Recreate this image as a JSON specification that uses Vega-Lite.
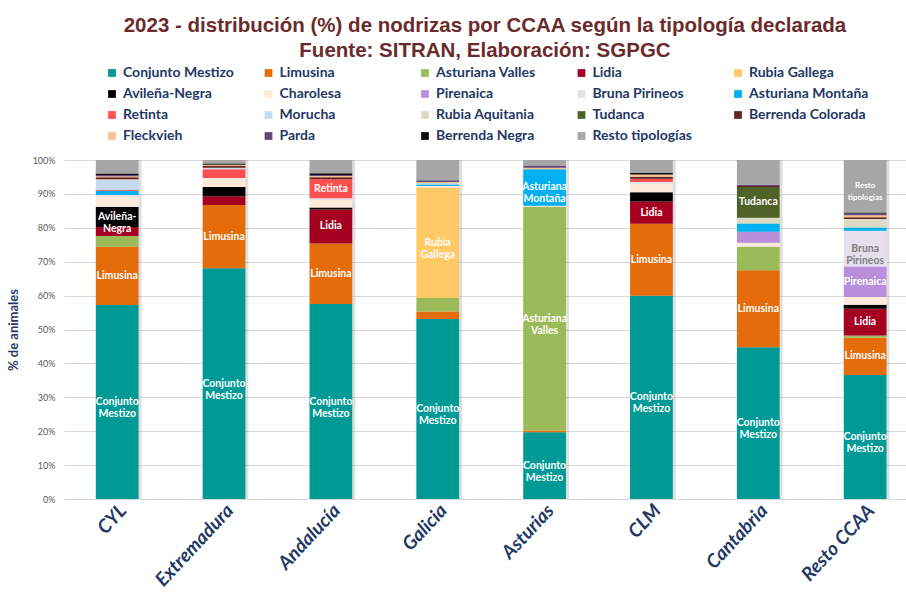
{
  "$schema": "https://vega.github.io/schema/vega-lite/v6.json",
  "autosize": {"type": "none"},
  "padding": {"left": 64, "top": 160, "right": 0, "bottom": 99},
  "width": 842,
  "height": 339,
  "background": "white",
  "title": {
    "text": ["2023 - distribución (%) de nodrizas por CCAA según la tipología declarada", "Fuente: SITRAN, Elaboración: SGPGC"],
    "font": "Liberation Sans",
    "fontSize": 20.5,
    "fontWeight": "bold",
    "color": "#6B2B2B",
    "lineHeight": 24.5,
    "anchor": "middle",
    "offset": 5
  },
  "datasets": {
    "tipos": [
      {"tipo": "Conjunto Mestizo", "orden": 1},
      {"tipo": "Limusina", "orden": 2},
      {"tipo": "Asturiana Valles", "orden": 3},
      {"tipo": "Lidia", "orden": 4},
      {"tipo": "Rubia Gallega", "orden": 5},
      {"tipo": "Avileña-Negra", "orden": 6},
      {"tipo": "Charolesa", "orden": 7},
      {"tipo": "Pirenaica", "orden": 8},
      {"tipo": "Bruna Pirineos", "orden": 9},
      {"tipo": "Asturiana Montaña", "orden": 10},
      {"tipo": "Retinta", "orden": 11},
      {"tipo": "Morucha", "orden": 12},
      {"tipo": "Rubia Aquitania", "orden": 13},
      {"tipo": "Tudanca", "orden": 14},
      {"tipo": "Berrenda Colorada", "orden": 15},
      {"tipo": "Fleckvieh", "orden": 16},
      {"tipo": "Parda", "orden": 17},
      {"tipo": "Berrenda Negra", "orden": 18},
      {"tipo": "Resto tipologías", "orden": 19}
    ],
    "nodrizas": [
      {"ccaa": "CYL", "tipo": "Conjunto Mestizo", "pct": 57.2, "label": "Conjunto\nMestizo"},
      {"ccaa": "CYL", "tipo": "Limusina", "pct": 17.2, "label": "Limusina"},
      {"ccaa": "CYL", "tipo": "Asturiana Valles", "pct": 3.2},
      {"ccaa": "CYL", "tipo": "Lidia", "pct": 2.6},
      {"ccaa": "CYL", "tipo": "Avileña-Negra", "pct": 5.9, "label": "Avileña-\nNegra"},
      {"ccaa": "CYL", "tipo": "Charolesa", "pct": 3.1},
      {"ccaa": "CYL", "tipo": "Bruna Pirineos", "pct": 0.5},
      {"ccaa": "CYL", "tipo": "Asturiana Montaña", "pct": 1.2},
      {"ccaa": "CYL", "tipo": "Retinta", "pct": 0.3},
      {"ccaa": "CYL", "tipo": "Morucha", "pct": 2.8},
      {"ccaa": "CYL", "tipo": "Rubia Aquitania", "pct": 0.3},
      {"ccaa": "CYL", "tipo": "Berrenda Colorada", "pct": 0.6},
      {"ccaa": "CYL", "tipo": "Fleckvieh", "pct": 0.3},
      {"ccaa": "CYL", "tipo": "Parda", "pct": 0.4},
      {"ccaa": "CYL", "tipo": "Berrenda Negra", "pct": 0.4},
      {"ccaa": "CYL", "tipo": "Resto tipologías", "pct": 4.0},

      {"ccaa": "Extremadura", "tipo": "Conjunto Mestizo", "pct": 68.1, "label": "Conjunto\nMestizo"},
      {"ccaa": "Extremadura", "tipo": "Limusina", "pct": 18.6, "label": "Limusina"},
      {"ccaa": "Extremadura", "tipo": "Lidia", "pct": 2.6},
      {"ccaa": "Extremadura", "tipo": "Avileña-Negra", "pct": 2.7},
      {"ccaa": "Extremadura", "tipo": "Charolesa", "pct": 2.7},
      {"ccaa": "Extremadura", "tipo": "Retinta", "pct": 2.6},
      {"ccaa": "Extremadura", "tipo": "Morucha", "pct": 0.4},
      {"ccaa": "Extremadura", "tipo": "Berrenda Colorada", "pct": 0.5},
      {"ccaa": "Extremadura", "tipo": "Fleckvieh", "pct": 0.4},
      {"ccaa": "Extremadura", "tipo": "Berrenda Negra", "pct": 0.4},
      {"ccaa": "Extremadura", "tipo": "Resto tipologías", "pct": 1.0},

      {"ccaa": "Andalucía", "tipo": "Conjunto Mestizo", "pct": 57.5, "label": "Conjunto\nMestizo"},
      {"ccaa": "Andalucía", "tipo": "Limusina", "pct": 17.9, "label": "Limusina"},
      {"ccaa": "Andalucía", "tipo": "Lidia", "pct": 10.0, "label": "Lidia"},
      {"ccaa": "Andalucía", "tipo": "Avileña-Negra", "pct": 0.6},
      {"ccaa": "Andalucía", "tipo": "Charolesa", "pct": 2.2},
      {"ccaa": "Andalucía", "tipo": "Bruna Pirineos", "pct": 0.5},
      {"ccaa": "Andalucía", "tipo": "Retinta", "pct": 5.6, "label": "Retinta"},
      {"ccaa": "Andalucía", "tipo": "Berrenda Colorada", "pct": 0.6},
      {"ccaa": "Andalucía", "tipo": "Fleckvieh", "pct": 0.4},
      {"ccaa": "Andalucía", "tipo": "Parda", "pct": 0.3},
      {"ccaa": "Andalucía", "tipo": "Berrenda Negra", "pct": 0.5},
      {"ccaa": "Andalucía", "tipo": "Resto tipologías", "pct": 3.9},

      {"ccaa": "Galicia", "tipo": "Conjunto Mestizo", "pct": 53.1, "label": "Conjunto\nMestizo"},
      {"ccaa": "Galicia", "tipo": "Limusina", "pct": 2.2},
      {"ccaa": "Galicia", "tipo": "Asturiana Valles", "pct": 4.0},
      {"ccaa": "Galicia", "tipo": "Rubia Gallega", "pct": 32.6, "label": "Rubia\nGallega"},
      {"ccaa": "Galicia", "tipo": "Charolesa", "pct": 0.4},
      {"ccaa": "Galicia", "tipo": "Asturiana Montaña", "pct": 0.5},
      {"ccaa": "Galicia", "tipo": "Morucha", "pct": 0.4},
      {"ccaa": "Galicia", "tipo": "Fleckvieh", "pct": 0.3},
      {"ccaa": "Galicia", "tipo": "Parda", "pct": 0.5},
      {"ccaa": "Galicia", "tipo": "Resto tipologías", "pct": 6.0},

      {"ccaa": "Asturias", "tipo": "Conjunto Mestizo", "pct": 19.7, "label": "Conjunto\nMestizo"},
      {"ccaa": "Asturias", "tipo": "Limusina", "pct": 0.5},
      {"ccaa": "Asturias", "tipo": "Asturiana Valles", "pct": 65.9, "label": "Asturiana\nValles"},
      {"ccaa": "Asturias", "tipo": "Charolesa", "pct": 0.3},
      {"ccaa": "Asturias", "tipo": "Asturiana Montaña", "pct": 10.8, "label": "Asturiana\nMontaña"},
      {"ccaa": "Asturias", "tipo": "Fleckvieh", "pct": 0.4},
      {"ccaa": "Asturias", "tipo": "Parda", "pct": 0.7},
      {"ccaa": "Asturias", "tipo": "Resto tipologías", "pct": 1.6},

      {"ccaa": "CLM", "tipo": "Conjunto Mestizo", "pct": 59.9, "label": "Conjunto\nMestizo"},
      {"ccaa": "CLM", "tipo": "Limusina", "pct": 21.2, "label": "Limusina"},
      {"ccaa": "CLM", "tipo": "Lidia", "pct": 6.6, "label": "Lidia"},
      {"ccaa": "CLM", "tipo": "Avileña-Negra", "pct": 2.7},
      {"ccaa": "CLM", "tipo": "Charolesa", "pct": 2.6},
      {"ccaa": "CLM", "tipo": "Bruna Pirineos", "pct": 0.4},
      {"ccaa": "CLM", "tipo": "Retinta", "pct": 1.0},
      {"ccaa": "CLM", "tipo": "Berrenda Colorada", "pct": 0.6},
      {"ccaa": "CLM", "tipo": "Fleckvieh", "pct": 0.6},
      {"ccaa": "CLM", "tipo": "Berrenda Negra", "pct": 0.5},
      {"ccaa": "CLM", "tipo": "Resto tipologías", "pct": 3.8},

      {"ccaa": "Cantabria", "tipo": "Conjunto Mestizo", "pct": 44.8, "label": "Conjunto\nMestizo"},
      {"ccaa": "Cantabria", "tipo": "Limusina", "pct": 22.7, "label": "Limusina"},
      {"ccaa": "Cantabria", "tipo": "Asturiana Valles", "pct": 6.9},
      {"ccaa": "Cantabria", "tipo": "Charolesa", "pct": 1.2},
      {"ccaa": "Cantabria", "tipo": "Pirenaica", "pct": 3.2},
      {"ccaa": "Cantabria", "tipo": "Asturiana Montaña", "pct": 2.5},
      {"ccaa": "Cantabria", "tipo": "Rubia Aquitania", "pct": 1.7},
      {"ccaa": "Cantabria", "tipo": "Tudanca", "pct": 9.0, "label": "Tudanca"},
      {"ccaa": "Cantabria", "tipo": "Berrenda Colorada", "pct": 0.3},
      {"ccaa": "Cantabria", "tipo": "Parda", "pct": 0.4},
      {"ccaa": "Cantabria", "tipo": "Resto tipologías", "pct": 7.3},

      {"ccaa": "Resto CCAA", "tipo": "Conjunto Mestizo", "pct": 36.6, "label": "Conjunto\nMestizo"},
      {"ccaa": "Resto CCAA", "tipo": "Limusina", "pct": 11.0, "label": "Limusina"},
      {"ccaa": "Resto CCAA", "tipo": "Asturiana Valles", "pct": 0.6},
      {"ccaa": "Resto CCAA", "tipo": "Lidia", "pct": 7.9, "label": "Lidia"},
      {"ccaa": "Resto CCAA", "tipo": "Avileña-Negra", "pct": 1.2},
      {"ccaa": "Resto CCAA", "tipo": "Charolesa", "pct": 2.3},
      {"ccaa": "Resto CCAA", "tipo": "Pirenaica", "pct": 9.0, "label": "Pirenaica"},
      {"ccaa": "Resto CCAA", "tipo": "Bruna Pirineos", "pct": 10.5, "label": "Bruna\nPirineos"},
      {"ccaa": "Resto CCAA", "tipo": "Asturiana Montaña", "pct": 1.0},
      {"ccaa": "Resto CCAA", "tipo": "Rubia Aquitania", "pct": 2.5},
      {"ccaa": "Resto CCAA", "tipo": "Berrenda Colorada", "pct": 0.5},
      {"ccaa": "Resto CCAA", "tipo": "Fleckvieh", "pct": 0.6},
      {"ccaa": "Resto CCAA", "tipo": "Parda", "pct": 0.5},
      {"ccaa": "Resto CCAA", "tipo": "Berrenda Negra", "pct": 0.3},
      {"ccaa": "Resto CCAA", "tipo": "Resto tipologías", "pct": 15.5, "label": "Resto\ntipologías"}
    ]
  },
  "data": {"name": "nodrizas"},
  "transform": [
    {"lookup": "tipo", "from": {"data": {"name": "tipos"}, "key": "tipo", "fields": ["orden"]}}
  ],
  "encoding": {
    "x": {
      "field": "ccaa",
      "type": "nominal",
      "sort": ["CYL", "Extremadura", "Andalucía", "Galicia", "Asturias", "CLM", "Cantabria", "Resto CCAA"],
      "scale": {"paddingInner": 0.6, "paddingOuter": 0.24, "align": 0.62},
      "axis": {
        "title": null,
        "labelAngle": -47,
        "labelAlign": "right",
        "labelBaseline": "middle",
        "labelFont": "Lato",
        "labelFontSize": 19,
        "labelFontWeight": "bold",
        "labelFontStyle": "italic",
        "labelColor": "#1F3864",
        "labelPadding": 8,
        "labelOffset": 6,
        "ticks": false,
        "domainColor": "#D9D9D9",
        "domainWidth": 1
      }
    }
  },
  "layer": [
    {
      "transform": [{"aggregate": [{"op": "count", "as": "n"}], "groupby": ["ccaa"]}],
      "mark": {"type": "bar", "xOffset": 3, "color": "#7F7F7F", "opacity": 0.25},
      "encoding": {
        "y": {
          "datum": 1,
          "type": "quantitative",
          "scale": {"domain": [0, 1]},
          "axis": {
            "title": "% de animales",
            "titleFont": "Lato",
            "titleFontSize": 13,
            "titleFontWeight": "bold",
            "titleColor": "#1F3864",
            "titlePadding": 12,
            "format": ".0%",
            "values": [0, 0.1, 0.2, 0.3, 0.4, 0.5, 0.6, 0.7, 0.8, 0.9, 1],
            "labelOverlap": false,
            "labelFont": "Lato",
            "labelFontSize": 9,
            "labelColor": "#595959",
            "labelPadding": 9,
            "ticks": false,
            "domain": false,
            "grid": true,
            "gridColor": "#D9D9D9",
            "gridWidth": 1
          }
        }
      }
    },
    {
      "mark": {"type": "bar"},
      "encoding": {
        "order": {"field": "orden", "type": "quantitative", "sort": "ascending"},
        "y": {
          "field": "pct",
          "type": "quantitative",
          "stack": "normalize",
          "scale": {"domain": [0, 1]},
          "axis": {
            "title": "% de animales",
            "titleFont": "Lato",
            "titleFontSize": 13,
            "titleFontWeight": "bold",
            "titleColor": "#1F3864",
            "titlePadding": 12,
            "format": ".0%",
            "values": [0, 0.1, 0.2, 0.3, 0.4, 0.5, 0.6, 0.7, 0.8, 0.9, 1],
            "labelOverlap": false,
            "labelFont": "Lato",
            "labelFontSize": 9,
            "labelColor": "#595959",
            "labelPadding": 9,
            "ticks": false,
            "domain": false,
            "grid": true,
            "gridColor": "#D9D9D9",
            "gridWidth": 1
          }
        },
        "color": {
          "field": "tipo",
          "type": "nominal",
          "scale": {
            "domain": ["Conjunto Mestizo", "Limusina", "Asturiana Valles", "Lidia", "Rubia Gallega", "Avileña-Negra", "Charolesa", "Pirenaica", "Bruna Pirineos", "Asturiana Montaña", "Retinta", "Morucha", "Rubia Aquitania", "Tudanca", "Berrenda Colorada", "Fleckvieh", "Parda", "Berrenda Negra", "Resto tipologías"],
            "range": ["#009A96", "#E46C0A", "#9BBB59", "#A50021", "#FFC966", "#000000", "#FDEADA", "#B98FDC", "#E6E0EC", "#00B0F0", "#FF5050", "#C5D9F1", "#DDD9C4", "#4F6228", "#632523", "#FAC090", "#604A7B", "#0D0D0D", "#A6A6A6"]
          },
          "legend": {
            "title": null,
            "orient": "none",
            "direction": "horizontal",
            "legendX": 41,
            "legendY": -94,
            "columns": 5,
            "gridAlign": "all",
            "columnPadding": 18.5,
            "rowPadding": 7,
            "symbolType": "square",
            "symbolSize": 60,
            "symbolStrokeWidth": 0,
            "labelFont": "Lato",
            "labelFontSize": 14,
            "labelFontWeight": "bold",
            "labelColor": "#1F3864",
            "labelOffset": 4,
            "labelLimit": 200
          }
        }
      }
    },
    {
      "mark": {"type": "text", "lineBreak": "\n", "font": "Lato", "fontWeight": "bold", "baseline": "middle", "align": "center", "lineHeight": 12},
      "encoding": {
        "order": {"field": "orden", "type": "quantitative", "sort": "ascending"},
        "y": {
          "field": "pct",
          "type": "quantitative",
          "stack": "normalize",
          "bandPosition": 0.5,
          "scale": {"domain": [0, 1]},
          "axis": {
            "title": "% de animales",
            "titleFont": "Lato",
            "titleFontSize": 13,
            "titleFontWeight": "bold",
            "titleColor": "#1F3864",
            "titlePadding": 12,
            "format": ".0%",
            "values": [0, 0.1, 0.2, 0.3, 0.4, 0.5, 0.6, 0.7, 0.8, 0.9, 1],
            "labelOverlap": false,
            "labelFont": "Lato",
            "labelFontSize": 9,
            "labelColor": "#595959",
            "labelPadding": 9,
            "ticks": false,
            "domain": false,
            "grid": true,
            "gridColor": "#D9D9D9",
            "gridWidth": 1
          }
        },
        "detail": {"field": "tipo"},
        "text": {"condition": {"test": "datum.label", "field": "label"}, "value": ""},
        "color": {"condition": {"test": "datum.tipo === 'Bruna Pirineos'", "value": "#7F7F7F"}, "value": "white"},
        "size": {"condition": {"test": "datum.tipo === 'Resto tipologías'", "value": 8}, "value": 10.5}
      }
    }
  ],
  "config": {
    "view": {"stroke": null},
    "axisY": {"labelOverlap": false}
  }
}
